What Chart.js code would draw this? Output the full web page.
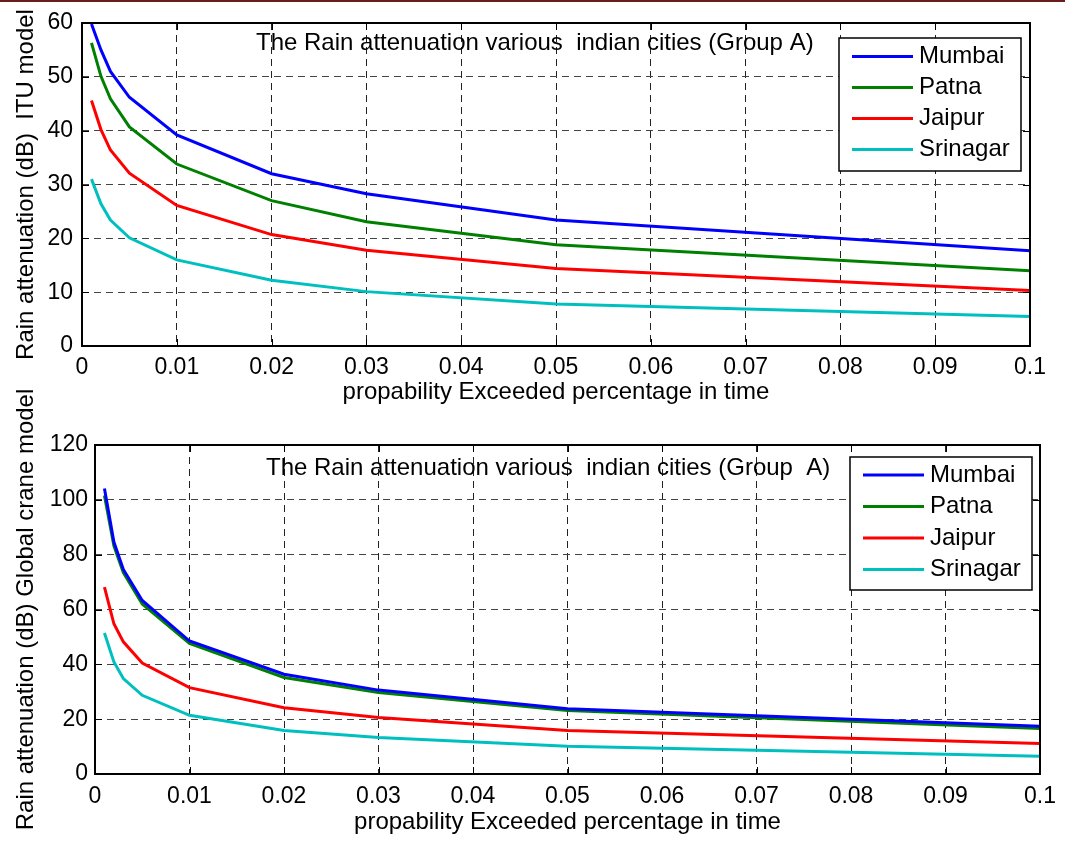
<!DOCTYPE html>
<html>
<head>
<meta charset="utf-8">
<title>Rain attenuation - Group A</title>
<script src="https://cdn.jsdelivr.net/npm/chart.js@4.4.1/dist/chart.umd.min.js"></script>
<style>
  html, body { margin: 0; padding: 0; background: #fff; }
  #page { position: relative; width: 1065px; height: 841px; overflow: hidden; }
  #topbar { position: absolute; left: 0; top: 0; width: 1065px; height: 2px; background: #6b1d1d; }
  canvas { position: absolute; left: 0; }
  #itu { top: 0; }
  #crane { top: 375px; }
</style>
</head>
<body>
<div id="page">
  <canvas id="itu" width="1065" height="410"></canvas>
  <canvas id="crane" width="1065" height="466"></canvas>
  <div id="topbar"></div>
</div>
<script>
// time percentage exceeded
const probability = [0.001, 0.002, 0.003, 0.005, 0.01, 0.02, 0.03, 0.05, 0.1];
const cities = ["Mumbai", "Patna", "Jaipur", "Srinagar"];
const cityColors = ["#0000ff", "#008000", "#ff0000", "#00bfbf"];

// ITU model, attenuation in dB
const mumbaiItu   = [59.8, 55.0, 51.0, 46.2, 39.2, 32.0, 28.3, 23.4, 17.7];
const patnaItu    = [56.3, 50.1, 45.9, 40.7, 33.8, 27.0, 23.1, 18.8, 14.0];
const jaipurItu   = [45.6, 40.2, 36.4, 32.1, 26.1, 20.7, 17.8, 14.4, 10.3];
const srinagarItu = [31.0, 26.4, 23.4, 20.1, 16.0, 12.2, 10.1, 7.8, 5.5];

// Global Crane model, attenuation in dB
const mumbaiCrane   = [104.1, 84.6, 74.6, 63.3, 48.5, 36.4, 30.6, 23.8, 17.4];
const patnaCrane    = [101.6, 83.2, 73.5, 62.0, 47.6, 35.2, 29.7, 23.2, 16.6];
const jaipurCrane   = [68.2, 54.8, 48.2, 40.5, 31.5, 24.2, 20.6, 15.9, 11.1];
const srinagarCrane = [51.4, 40.9, 34.8, 28.7, 21.4, 15.9, 13.3, 10.1, 6.5];

const xTickLabels = ["0", "0.01", "0.02", "0.03", "0.04", "0.05", "0.06", "0.07", "0.08", "0.09", "0.1"];
const ituTicks = [0, 10, 20, 30, 40, 50, 60];
const craneTicks = [0, 20, 40, 60, 80, 100, 120];

const FONT = '"Liberation Sans", Arial, sans-serif';

// matlab style axes: closed box, inward ticks, inner title and legend
const matlabAxes = {
  id: "matlabAxes",
  afterDraw(chart, args, opts) {
    const { ctx, chartArea: a, scales: { x, y } } = chart;
    ctx.save();

    ctx.strokeStyle = "#000";
    ctx.lineWidth = 1;
    ctx.beginPath();
    x.ticks.forEach(t => {
      const px = Math.round(x.getPixelForValue(t.value)) + 0.5;
      ctx.moveTo(px, a.bottom); ctx.lineTo(px, a.bottom - 7);
      ctx.moveTo(px, a.top); ctx.lineTo(px, a.top + 7);
    });
    y.ticks.forEach(t => {
      const py = Math.round(y.getPixelForValue(t.value)) + 0.5;
      ctx.moveTo(a.left, py); ctx.lineTo(a.left + 7, py);
      ctx.moveTo(a.right, py); ctx.lineTo(a.right - 7, py);
    });
    ctx.stroke();

    ctx.lineWidth = 2;
    ctx.strokeRect(Math.round(a.left), Math.round(a.top), Math.round(a.width), Math.round(a.height));

    // title inside the plot
    ctx.fillStyle = "#000";
    ctx.font = "24px " + FONT;
    ctx.textBaseline = "middle";
    ctx.textAlign = "left";
    ctx.fillText(opts.title, a.left + opts.titleX, a.top + opts.titleY);

    // legend box
    const lg = opts.legend;
    const bx = Math.round(a.right - lg.right - lg.width);
    const by = Math.round(a.top + lg.top);
    ctx.fillStyle = "#fff";
    ctx.fillRect(bx, by, lg.width, lg.height);
    ctx.strokeStyle = "#000";
    ctx.lineWidth = 1.5;
    ctx.strokeRect(bx, by, lg.width, lg.height);
    ctx.font = "24px " + FONT;
    chart.data.datasets.forEach((ds, i) => {
      const ry = by + lg.firstRow + i * lg.rowGap;
      ctx.strokeStyle = ds.borderColor;
      ctx.lineWidth = ds.borderWidth;
      ctx.beginPath();
      ctx.moveTo(bx + 13, ry);
      ctx.lineTo(bx + 74, ry);
      ctx.stroke();
      ctx.fillStyle = "#000";
      ctx.fillText(ds.label, bx + 80, ry);
    });
    ctx.restore();
  }
};

function buildChart(canvasId, series, yTicks, yTitle, box, inner) {
  const tickFont = { family: FONT, size: 23 };
  const titleFont = { family: FONT, size: 24 };
  return new Chart(document.getElementById(canvasId), {
    type: "line",
    data: {
      datasets: series.map((values, i) => ({
        label: cities[i],
        data: probability.map((p, k) => ({ x: p, y: values[k] })),
        borderColor: cityColors[i],
        borderWidth: 3,
        pointRadius: 0,
        tension: 0,
        fill: false
      }))
    },
    options: {
      responsive: false,
      animation: false,
      devicePixelRatio: 1,
      layout: { padding: { top: box.top, right: box.right, left: 0, bottom: 0 } },
      plugins: {
        legend: { display: false },
        tooltip: { enabled: false },
        matlabAxes: inner
      },
      scales: {
        x: {
          type: "linear",
          min: 0,
          max: 0.1,
          afterFit: s => { s.height = box.xHeight; },
          ticks: {
            stepSize: 0.01,
            autoSkip: false,
            maxRotation: 0,
            padding: box.xPad,
            color: "#000",
            font: tickFont,
            callback: (v, i) => xTickLabels[i]
          },
          grid: { color: "#222", lineWidth: 1, drawTicks: false },
          border: { display: false, dash: [7, 5] },
          title: {
            display: true,
            text: "propability Exceeded percentage in time",
            color: "#000",
            font: titleFont,
            padding: { top: 0, bottom: box.xTitlePad }
          }
        },
        y: {
          min: yTicks[0],
          max: yTicks[yTicks.length - 1],
          afterFit: s => { s.width = box.yWidth; },
          ticks: {
            stepSize: yTicks[1] - yTicks[0],
            padding: box.yPad,
            color: "#000",
            font: tickFont
          },
          grid: { color: "#444", lineWidth: 1, drawTicks: false },
          border: { display: false, dash: [7, 5] },
          title: {
            display: true,
            text: yTitle,
            color: "#000",
            font: titleFont,
            padding: { top: 12, bottom: 0 }
          }
        }
      }
    },
    plugins: [matlabAxes]
  });
}

buildChart("itu",
  [mumbaiItu, patnaItu, jaipurItu, srinagarItu],
  ituTicks,
  "Rain attenuation (dB)  ITU model",
  { top: 23, right: 35, xHeight: 64, yWidth: 82, xPad: 8, yPad: 9, xTitlePad: 3 },
  {
    title: "The Rain attenuation various  indian cities (Group A)",
    titleX: 174, titleY: 20,
    legend: { right: 9, top: 15, width: 182, height: 133, firstRow: 18.5, rowGap: 31 }
  });

buildChart("crane",
  [mumbaiCrane, patnaCrane, jaipurCrane, srinagarCrane],
  craneTicks,
  "Rain attenuation (dB) Global crane model",
  { top: 70, right: 22, xHeight: 67, yWidth: 95, xPad: 9, yPad: 7, xTitlePad: 4 },
  {
    title: "The Rain attenuation various  indian cities (Group  A)",
    titleX: 171, titleY: 23,
    legend: { right: 8, top: 12, width: 182, height: 133, firstRow: 18, rowGap: 31.5 }
  });
</script>
</body>
</html>
